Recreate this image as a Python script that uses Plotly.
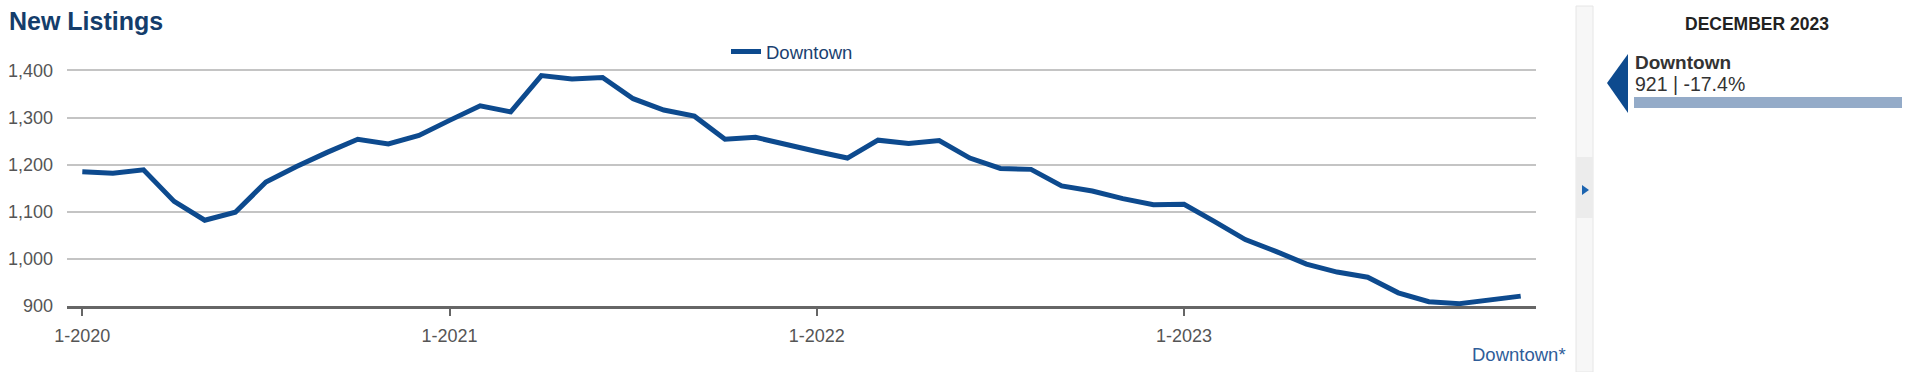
import plotly.graph_objects as go

# ---- data ----
series_name = "Downtown"
months = [f"{m}-{y}" for y in range(2020, 2024) for m in range(1, 13)]
new_listings = [
    1185, 1182, 1189, 1122, 1082, 1099, 1163, 1196, 1226, 1254, 1244, 1262,
    1294, 1325, 1312, 1389, 1382, 1385, 1340, 1316, 1303, 1254, 1258, 1242,
    1228, 1214, 1252, 1245, 1251, 1214, 1192, 1190, 1155, 1144, 1128, 1115,
    1116, 1079, 1041, 1016, 989, 972, 961, 928, 909, 905, 913, 921,
]
year_ticks = ["1-2020", "1-2021", "1-2022", "1-2023"]
y_ticks = [900, 1000, 1100, 1200, 1300, 1400]
panel_title = "DECEMBER 2023"

# ---- geometry helpers (pixel -> paper) ----
W, H = 1920, 372
L, R, T, B = 67, 1536, 61, 306


def px(x):
    return (x - L) / (R - L)


def py(y):
    return (B - y) / (B - T)


LINE_COLOR = "#0d4a8e"
FONT = "Arial, Liberation Sans, sans-serif"

fig = go.Figure()
fig.add_trace(go.Scatter(
    x=months, y=new_listings, mode="lines", name=series_name,
    line=dict(color=LINE_COLOR, width=5),
    hoverinfo="x+y",
))

fig.update_layout(
    width=W, height=H,
    margin=dict(l=L, r=W - R, t=T, b=H - B, autoexpand=False),
    paper_bgcolor="white", plot_bgcolor="white",
    font=dict(family=FONT, size=18, color="#555555"),
    showlegend=True,
    legend=dict(orientation="h", x=px(726), xanchor="left", y=py(52), yanchor="middle",
                font=dict(size=18.5, color="#1a3f70"), bgcolor="rgba(0,0,0,0)",
                itemwidth=30),
    xaxis=dict(
        type="category", range=[-0.5, len(months) - 0.5],
        tickvals=year_ticks, ticktext=year_ticks,
        showgrid=False, zeroline=False, automargin=False,
        showline=True, linecolor="#666666", linewidth=3,
        ticks="outside", ticklen=7, tickwidth=2, tickcolor="#666666",
        ticklabelstandoff=4,
        tickfont=dict(size=18, color="#555555"),
    ),
    yaxis=dict(
        range=[900, 1420], tickvals=y_ticks, tickformat=",",
        showgrid=True, gridcolor="#c4c4c4", gridwidth=1.5,
        zeroline=False, showline=False, automargin=False,
        ticks="", ticklabelstandoff=13,
        tickfont=dict(size=18, color="#555555"),
    ),
)

# title
fig.add_annotation(text="<b>New Listings</b>", xref="paper", yref="paper",
                   x=px(7), y=py(21), xanchor="left", yanchor="middle",
                   showarrow=False, font=dict(size=25, color="#143d6b", family=FONT))

# footer series label
fig.add_annotation(text=series_name + "*", xref="paper", yref="paper",
                   x=px(1568), y=py(354), xanchor="right", yanchor="middle",
                   showarrow=False, font=dict(size=18.5, color="#2f5d99", family=FONT))

# side strip
fig.add_shape(type="rect", xref="paper", yref="paper",
              x0=px(1576), x1=px(1593), y0=py(6), y1=py(372),
              fillcolor="#f7f7f7", line=dict(color="#e6e6e6", width=1), layer="above")
fig.add_shape(type="rect", xref="paper", yref="paper",
              x0=px(1576), x1=px(1593), y0=py(157), y1=py(218),
              fillcolor="#ececec", line=dict(width=0), layer="above")
fig.add_shape(type="path", xref="paper", yref="paper",
              path=f"M {px(1582)} {py(185)} L {px(1589)} {py(190)} L {px(1582)} {py(195)} Z",
              fillcolor="#1c64b0", line=dict(width=0), layer="above")

# right panel
last_val = new_listings[-1]
pct = (new_listings[-1] / new_listings[-13] - 1) * 100
fig.add_annotation(text=f"<b>{panel_title}</b>", xref="paper", yref="paper",
                   x=px(1757), y=py(24), xanchor="center", yanchor="middle",
                   showarrow=False, font=dict(size=17.5, color="#222222", family=FONT))
fig.add_shape(type="path", xref="paper", yref="paper",
              path=f"M {px(1628)} {py(54)} L {px(1607)} {py(83)} L {px(1628)} {py(113)} Z",
              fillcolor="#0d4a8e", line=dict(width=0), layer="above")
fig.add_annotation(text=f"<b>{series_name}</b>", xref="paper", yref="paper",
                   x=px(1633), y=py(62), xanchor="left", yanchor="middle",
                   showarrow=False, font=dict(size=19, color="#333333", family=FONT))
fig.add_annotation(text=f"{last_val:,} | {pct:.1f}%", xref="paper", yref="paper",
                   x=px(1633), y=py(84), xanchor="left", yanchor="middle",
                   showarrow=False, font=dict(size=19.5, color="#333333", family=FONT))
fig.add_shape(type="rect", xref="paper", yref="paper",
              x0=px(1634), x1=px(1902), y0=py(97), y1=py(108),
              fillcolor="#94abc8", line=dict(width=0), layer="above")

fig.write_html("out.html", config={"displayModeBar": False},
               post_script="document.body.style.margin='0';")
